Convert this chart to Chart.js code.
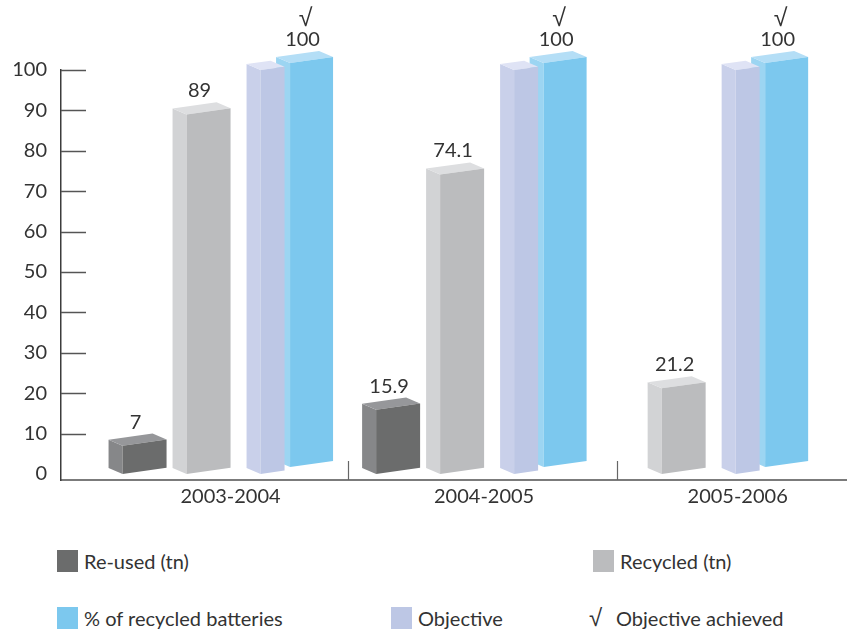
<!DOCTYPE html>
<html>
<head>
<meta charset="utf-8">
<title>Batteries re-used and recycled</title>
<script src="https://cdn.jsdelivr.net/npm/chart.js@4.4.1/dist/chart.umd.min.js"></script>
<style>
  html, body { margin: 0; padding: 0; background: #fff; overflow: hidden; }
  #wrap { position: relative; width: 847px; height: 629px; font-family: Lato, "Open Sans", sans-serif; color: #333; }
  #chart { position: absolute; left: 0; top: 0; }
  .item { position: absolute; display: flex; align-items: center; font-size: 20px; line-height: 22px; white-space: nowrap; }
  .swatch { display: inline-block; width: 21px; height: 22px; margin-right: 6px; }
  .mark { display: inline-block; width: 27px; font-family: "DejaVu Sans", sans-serif; font-size: 24px; font-weight: 200; }
</style>
</head>
<body>
<div id="wrap">
  <canvas id="chart" width="847" height="530"></canvas>
  <div id="legend"></div>
</div>
<script>
// Reporting years
const categories = ['2003-2004', '2004-2005', '2005-2006'];
// Tonnes of batteries re-used / recycled
const reusedTn = [7, 15.9, null];
const recycledTn = [89, 74.1, 21.2];
// Objective and achieved share of recycled batteries (%)
const objectivePct = [100, 100, 100];
const recycledBatteriesPct = [100, 100, 100];
const objectiveAchieved = [true, true, true];
// Value axis ticks
const yTickValues = [0, 10, 20, 30, 40, 50, 60, 70, 80, 90, 100];

const CHECK = '\u221A';
const FONT = 'Lato, "Open Sans", sans-serif';
Chart.defaults.font.family = FONT;

const toPoints = arr => arr.map((v, i) => ({ x: i, y: v }));

// Extruded box look: depth vector and tilt of the front face
const DEPTH = { x: -14, y: -6 };
const TILT = 0.14;

function boxGeometry(el, ds) {
  const fw = ds.faceWidth;
  const sh = ds.depthShift || { x: 0, y: 0 };
  const fl = el.x - 3 - fw / 2 + sh.x;
  const fr = fl + fw;
  const yb = el.base + sh.y;
  const yt = el.y + sh.y;
  const rise = fw * TILT;
  return { fl, fr, fw, yb, yt, rise, peak: yt - rise + DEPTH.y, left: fl + DEPTH.x };
}

function poly(ctx, pts, color) {
  ctx.beginPath();
  ctx.moveTo(pts[0][0], pts[0][1]);
  for (let i = 1; i < pts.length; i++) ctx.lineTo(pts[i][0], pts[i][1]);
  ctx.closePath();
  ctx.fillStyle = color;
  ctx.fill();
}

let groupExtents = [];

const bar3d = {
  id: 'bar3d',
  beforeDatasetsDraw() {
    groupExtents = categories.map(() => ({ left: Infinity, right: -Infinity }));
  },
  beforeDatasetDraw(chart, args) {
    const ds = chart.data.datasets[args.index];
    const ctx = chart.ctx;
    ctx.save();
    args.meta.data.forEach((el, i) => {
      const pt = ds.data[i];
      if (!pt || pt.y == null) return;
      const g = boxGeometry(el, ds);
      const { fl, fr, yb, yt, rise } = g;
      // side face
      poly(ctx, [[fl, yb], [fl, yt], [fl + DEPTH.x, yt + DEPTH.y], [fl + DEPTH.x, yb + DEPTH.y]], ds.sideColor);
      // top face
      poly(ctx, [[fl, yt], [fr, yt - rise], [fr + DEPTH.x, yt - rise + DEPTH.y], [fl + DEPTH.x, yt + DEPTH.y]], ds.topColor);
      // front face
      poly(ctx, [[fl, yb], [fr, yb - rise], [fr, yt - rise], [fl, yt]], ds.backgroundColor);
      const ext = groupExtents[pt.x];
      ext.left = Math.min(ext.left, g.left);
      ext.right = Math.max(ext.right, fr);
    });
    ctx.restore();
    return false;
  }
};

const valueLabels = {
  id: 'valueLabels',
  afterDatasetsDraw(chart) {
    const ctx = chart.ctx;
    ctx.save();
    ctx.fillStyle = '#333';
    ctx.textAlign = 'center';
    ctx.textBaseline = 'alphabetic';
    chart.data.datasets.forEach((ds, di) => {
      if (!ds.showValue) return;
      chart.getDatasetMeta(di).data.forEach((el, i) => {
        const pt = ds.data[i];
        if (!pt || pt.y == null) return;
        const g = boxGeometry(el, ds);
        const lx = g.fl + g.fw / 2 - 9;
        const by = g.peak - 5;
        ctx.font = '20px ' + FONT;
        ctx.fillText(String(pt.y), lx, by);
        if (ds.achieved && ds.achieved[i]) {
          ctx.font = '200 25px "DejaVu Sans", sans-serif';
          ctx.fillText(CHECK, lx + 3, by - 20);
        }
      });
    });
    ctx.restore();
  }
};

const axisMarks = {
  id: 'axisMarks',
  afterDraw(chart) {
    const { ctx, chartArea, scales: { y } } = chart;
    ctx.save();
    ctx.strokeStyle = '#555';
    ctx.lineWidth = 1.5;
    yTickValues.forEach(v => {
      if (v === 0) return;
      const py = Math.round(y.getPixelForValue(v)) + 0.5;
      ctx.beginPath();
      ctx.moveTo(chartArea.left, py);
      ctx.lineTo(chartArea.left + 25, py);
      ctx.stroke();
    });
    // separators between year groups
    ctx.strokeStyle = '#666';
    ctx.lineWidth = 1.2;
    for (let i = 0; i < categories.length - 1; i++) {
      const px = Math.round((groupExtents[i].right + groupExtents[i + 1].left) / 2) + 0.5;
      ctx.beginPath();
      ctx.moveTo(px, chartArea.bottom);
      ctx.lineTo(px, chartArea.bottom - 19);
      ctx.stroke();
    }
    ctx.restore();
  }
};

const chart = new Chart(document.getElementById('chart'), {
  type: 'bar',
  data: {
    datasets: [
      {
        label: 'Re-used (tn)', data: toPoints(reusedTn),
        backgroundColor: '#6b6c6c', sideColor: '#868789', topColor: '#96979a',
        faceWidth: 44, showValue: true
      },
      {
        label: 'Recycled (tn)', data: toPoints(recycledTn),
        backgroundColor: '#bbbcbe', sideColor: '#d2d3d5', topColor: '#dddee0',
        faceWidth: 44, showValue: true
      },
      {
        label: 'Objective', data: toPoints(objectivePct),
        backgroundColor: '#bdc7e5', sideColor: '#c9d0ea', topColor: '#dfe3f5',
        faceWidth: 24
      },
      {
        label: '% of recycled batteries', data: toPoints(recycledBatteriesPct),
        backgroundColor: '#7cc8ee', sideColor: '#9cd5f2', topColor: '#b4def6',
        faceWidth: 43, depthShift: { x: -25, y: -7 }, showValue: true,
        achieved: objectiveAchieved
      }
    ].map(ds => Object.assign({ barThickness: 64, skipNull: true, clip: false }, ds))
  },
  options: {
    responsive: false,
    animation: false,
    events: [],
    layout: { padding: { top: 70, left: 0, right: 0, bottom: 0 } },
    plugins: { legend: { display: false }, tooltip: { enabled: false } },
    scales: {
      x: {
        type: 'linear', min: -0.72, max: 2.38, offset: false,
        grid: { display: false, drawTicks: false },
        border: { display: true, color: '#7b7b7b', width: 2 },
        ticks: {
          font: { size: 20 }, color: '#333', padding: 5, labelOffset: -13,
          maxRotation: 0, autoSkip: false,
          callback: v => categories[v] ?? ''
        },
        afterBuildTicks: s => { s.ticks = categories.map((_, i) => ({ value: i })); },
        afterFit: s => { s.height = 50; }
      },
      y: {
        min: -1.5, max: 100,
        grid: { display: false, drawTicks: false },
        border: { display: true, color: '#3c3c3c', width: 1.5 },
        ticks: { font: { size: 20 }, color: '#333', padding: 14 },
        afterBuildTicks: s => { s.ticks = yTickValues.map(v => ({ value: v })); },
        afterFit: s => { s.width = 61; }
      }
    }
  },
  plugins: [bar3d, valueLabels, axisMarks]
});

// Legend laid out in two rows under the plot
const legendSlots = [
  { left: 57, top: 550 },
  { left: 593, top: 550 },
  { left: 391, top: 607 },
  { left: 57, top: 607 }
];
const legendEl = document.getElementById('legend');
chart.data.datasets.forEach((ds, i) => {
  const pos = legendSlots[i];
  const item = document.createElement('div');
  item.className = 'item';
  item.style.left = pos.left + 'px';
  item.style.top = pos.top + 'px';
  const sw = document.createElement('span');
  sw.className = 'swatch';
  sw.style.background = ds.backgroundColor;
  item.appendChild(sw);
  item.appendChild(document.createTextNode(ds.label));
  legendEl.appendChild(item);
});
const ach = document.createElement('div');
ach.className = 'item';
ach.style.left = '589px';
ach.style.top = '607px';
const mk = document.createElement('span');
mk.className = 'mark';
mk.textContent = CHECK;
ach.appendChild(mk);
ach.appendChild(document.createTextNode('Objective achieved'));
legendEl.appendChild(ach);
</script>
</body>
</html>
